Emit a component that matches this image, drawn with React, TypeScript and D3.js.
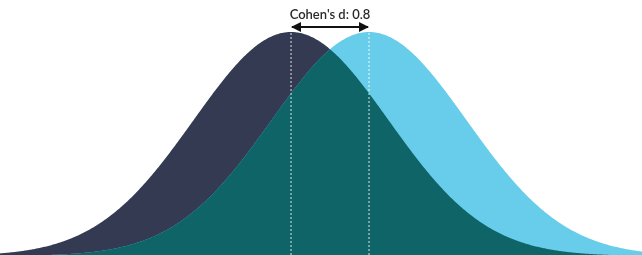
import React from "react";
import * as d3 from "d3";

const groups = ["Control", "Treatment"];
const means = [0, 0.8];
const sds = [1, 1];
const colors = ["#333a51", "#68cdea"];
const overlapColor = "#0e6467";
const effectLabel = "Cohen's d: 0.8";

const width = 642;
const height = 255;

const normal = (x: number, m: number, s: number) =>
  Math.exp(-0.5 * ((x - m) / s) ** 2) / (s * Math.sqrt(2 * Math.PI));

const App: React.FC = () => {
  const xScale = d3.scaleLinear().domain([-2.985, 3.6]).range([0, width]);
  const yScale = d3.scaleLinear().domain([0, normal(0, 0, 1)]).range([256, 32]);

  const grid = d3.range(-3.2, 3.9, 0.01);

  const area = d3
    .area<number[]>()
    .x((d) => xScale(d[0]))
    .y0(yScale(0))
    .y1((d) => yScale(d[1]));

  const curves = groups.map((g, i) =>
    grid.map((x) => [x, normal(x, means[i], sds[i])])
  );
  const overlap = grid.map((x) => [
    x,
    Math.min(...groups.map((g, i) => normal(x, means[i], sds[i]))),
  ]);

  const x0 = xScale(means[0]);
  const x1 = xScale(means[1]);
  const arrowY = 27;

  return (
    <svg
      width={width}
      height={height}
      style={{ position: "fixed", left: 0, top: 0 }}
    >
      <defs>
        <marker
          id="arrow"
          viewBox="0 0 10 10"
          refX="9"
          refY="5"
          markerWidth="5"
          markerHeight="5"
          orient="auto-start-reverse"
        >
          <path d="M0,0 L10,5 L0,10 z" fill="#111" />
        </marker>
      </defs>
      {curves.map((c, i) => (
        <path key={groups[i]} d={area(c) || ""} fill={colors[i]} />
      ))}
      <path d={area(overlap) || ""} fill={overlapColor} />
      {means.map((m, i) => (
        <line
          key={i}
          x1={xScale(m)}
          x2={xScale(m)}
          y1={arrowY + 2}
          y2={height}
          stroke="#fff"
          strokeWidth={1}
          strokeDasharray="2,2"
          opacity={0.85}
        />
      ))}
      <line
        x1={x0 + 1}
        x2={x1 - 1}
        y1={arrowY}
        y2={arrowY}
        stroke="#111"
        strokeWidth={2}
        markerStart="url(#arrow)"
        markerEnd="url(#arrow)"
      />
      <text
        x={(x0 + x1) / 2}
        y={19}
        textAnchor="middle"
        fontFamily="Lato, 'Open Sans', sans-serif"
        fontSize={13}
        fontWeight={600}
        fill="#2a2a2a"
      >
        {effectLabel}
      </text>
    </svg>
  );
};

export default App;
